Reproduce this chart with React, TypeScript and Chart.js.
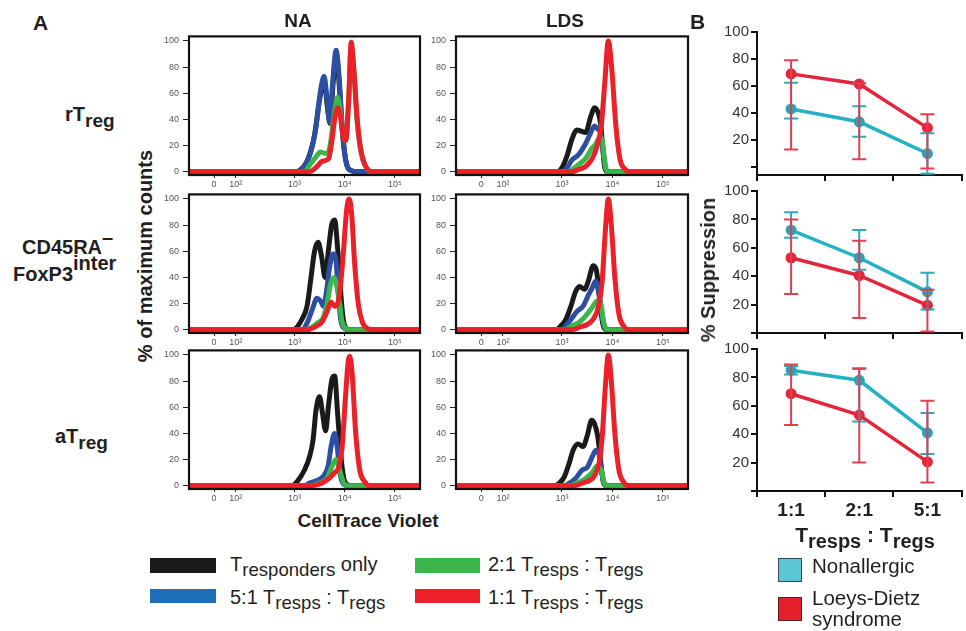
import React, { useEffect, useRef } from 'react';
import { Chart, registerables } from 'chart.js';
Chart.register(...registerables);

const FONT = '"Liberation Sans", Arial, Helvetica, sans-serif';

// ---------- Panel A (histograms): x in display decades of CellTrace Violet ----------
const xTickValues = [1.4, 1.83, 3, 4, 5];
const xTickLabels = ['0', '10²', '10³', '10⁴', '10⁵'];
const yTickValues = [0, 20, 40, 60, 80, 100];

const naRtBlack = [[0.9,0],[3.0,0],[3.1,1],[3.25,8],[3.4,28],[3.5,55],[3.59,70],[3.66,48],[3.71,37],[3.77,68],[3.83,90],[3.9,62],[3.96,28],[4.03,7],[4.12,1],[4.25,0],[5.5,0]];
const naRtBlue = [[0.9,0],[3.05,0],[3.15,2],[3.3,12],[3.42,32],[3.52,62],[3.59,73],[3.65,55],[3.7,38],[3.76,68],[3.83,93],[3.89,72],[3.95,35],[4.02,9],[4.12,1],[4.25,0],[5.5,0]];
const naRtGreen = [[0.9,0],[3.2,0],[3.3,5],[3.42,11],[3.52,15],[3.62,14],[3.7,18],[3.78,40],[3.86,57],[3.92,44],[3.97,27],[4.02,24],[4.08,55],[4.13,96],[4.18,78],[4.25,38],[4.33,14],[4.42,4],[4.55,0],[5.5,0]];
const naRtRed = [[0.9,0],[3.3,0],[3.45,4],[3.55,8],[3.68,10],[3.75,25],[3.8,40],[3.86,49],[3.91,44],[3.97,27],[4.02,24],[4.08,55],[4.13,99],[4.18,80],[4.25,40],[4.33,15],[4.42,4],[4.55,0],[5.5,0]];

const ldsRtBlack = [[0.9,0],[2.9,0],[3.0,3],[3.1,12],[3.2,25],[3.3,32],[3.38,31],[3.47,30],[3.57,42],[3.65,49],[3.72,45],[3.77,36],[3.81,18],[3.85,3],[3.9,0],[5.5,0]];
const ldsRtBlue = [[0.9,0],[3.0,0],[3.1,3],[3.2,9],[3.33,13],[3.45,20],[3.55,28],[3.65,35],[3.7,33],[3.76,30],[3.81,18],[3.86,3],[3.92,0],[5.5,0]];
const ldsRtGreen = [[0.9,0],[3.12,0],[3.25,3],[3.35,6],[3.47,10],[3.58,17],[3.67,21],[3.75,26],[3.8,24],[3.85,8],[3.9,0],[5.5,0]];
const ldsRtRed = [[0.9,0],[3.2,0],[3.35,2],[3.47,4],[3.6,10],[3.7,20],[3.78,35],[3.85,68],[3.92,100],[3.99,78],[4.07,35],[4.15,10],[4.25,2],[4.35,0],[5.5,0]];

const naCdBlack = [[0.9,0],[2.95,0],[3.05,2],[3.15,8],[3.25,18],[3.33,40],[3.4,60],[3.47,67],[3.54,56],[3.61,40],[3.68,62],[3.74,80],[3.8,84],[3.86,62],[3.9,40],[3.95,15],[4.0,3],[4.1,0],[5.5,0]];
const naCdBlue = [[0.9,0],[3.15,0],[3.25,5],[3.35,15],[3.45,24],[3.52,22],[3.58,18],[3.64,30],[3.7,48],[3.77,58],[3.82,55],[3.87,30],[3.92,8],[4.0,1],[4.1,0],[5.5,0]];
const naCdGreen = [[0.9,0],[3.25,0],[3.35,2],[3.45,5],[3.57,9],[3.65,20],[3.72,35],[3.79,40],[3.85,32],[3.9,20],[3.95,6],[4.02,1],[4.1,0],[5.5,0]];
const naCdRed = [[0.9,0],[3.25,0],[3.4,2],[3.55,6],[3.65,14],[3.73,21],[3.8,18],[3.86,20],[3.92,35],[3.98,62],[4.04,92],[4.09,100],[4.14,88],[4.2,50],[4.27,20],[4.35,6],[4.45,1],[4.6,0],[5.5,0]];

const ldsCdBlack = [[0.9,0],[2.88,0],[2.98,3],[3.08,8],[3.17,17],[3.27,29],[3.35,33],[3.45,31],[3.53,38],[3.62,49],[3.68,46],[3.73,32],[3.78,12],[3.83,2],[3.9,0],[5.5,0]];
const ldsCdBlue = [[0.9,0],[3.0,0],[3.1,4],[3.2,9],[3.3,14],[3.42,18],[3.52,26],[3.6,32],[3.67,37],[3.72,30],[3.78,15],[3.84,3],[3.9,0],[5.5,0]];
const ldsCdGreen = [[0.9,0],[3.05,0],[3.2,3],[3.35,6],[3.5,12],[3.6,17],[3.7,22],[3.77,20],[3.83,5],[3.9,0],[5.5,0]];
const ldsCdRed = [[0.9,0],[3.2,0],[3.35,2],[3.5,4],[3.62,8],[3.72,17],[3.8,38],[3.86,75],[3.92,100],[3.98,80],[4.05,40],[4.13,12],[4.22,3],[4.32,0],[5.5,0]];

const naAtBlack = [[0.9,0],[2.95,0],[3.05,3],[3.2,12],[3.3,22],[3.37,35],[3.43,58],[3.5,68],[3.56,55],[3.62,42],[3.68,62],[3.75,82],[3.8,84],[3.86,55],[3.92,25],[3.98,6],[4.05,1],[4.15,0],[5.5,0]];
const naAtBlue = [[0.9,0],[3.2,0],[3.3,2],[3.45,4],[3.57,7],[3.67,15],[3.73,30],[3.8,40],[3.85,30],[3.9,12],[3.95,3],[4.05,0],[5.5,0]];
const naAtGreen = [[0.9,0],[3.3,0],[3.5,2],[3.65,6],[3.75,15],[3.83,20],[3.88,15],[3.93,8],[4.0,1],[4.1,0],[5.5,0]];
const naAtRed = [[0.9,0],[3.35,0],[3.55,2],[3.7,6],[3.8,10],[3.88,14],[3.95,30],[4.02,70],[4.07,95],[4.1,99],[4.15,85],[4.22,40],[4.3,12],[4.4,3],[4.5,0],[5.5,0]];

const ldsAtBlack = [[0.9,0],[2.85,0],[2.95,2],[3.05,7],[3.15,18],[3.22,27],[3.32,32],[3.42,30],[3.5,38],[3.59,50],[3.65,47],[3.71,38],[3.77,18],[3.82,3],[3.88,0],[5.5,0]];
const ldsAtBlue = [[0.9,0],[3.05,0],[3.15,2],[3.28,6],[3.4,12],[3.5,14],[3.6,22],[3.67,27],[3.73,25],[3.79,10],[3.85,1],[3.9,0],[5.5,0]];
const ldsAtGreen = [[0.9,0],[3.15,0],[3.3,2],[3.45,5],[3.6,10],[3.7,15],[3.78,12],[3.84,2],[3.9,0],[5.5,0]];
const ldsAtRed = [[0.9,0],[3.25,0],[3.4,2],[3.55,4],[3.65,8],[3.74,18],[3.8,38],[3.86,75],[3.92,100],[3.98,80],[4.05,40],[4.13,12],[4.22,3],[4.32,0],[5.5,0]];

// ---------- Panel B (% suppression) ----------
const ratios = ['1:1', '2:1', '5:1'];
const suppTicks = [0, 20, 40, 60, 80, 100];
const suppTickLabels = ['', '20', '40', '60', '80', '100'];

const rtNonallergic = [43, 33.5, 10];
const rtNonallergicLow = [36, 22.5, -5];
const rtNonallergicHigh = [62.5, 45, 25];
const rtLoeysDietz = [69, 61.5, 29];
const rtLoeysDietzLow = [13, 5.8, -1];
const rtLoeysDietzHigh = [79, 62, 39];

const cdNonallergic = [72.5, 53, 29];
const cdNonallergicLow = [67, 44.5, 16.5];
const cdNonallergicHigh = [85, 72.5, 42.5];
const cdLoeysDietz = [53, 40.5, 19.5];
const cdLoeysDietzLow = [27.5, 10.5, 1];
const cdLoeysDietzHigh = [80, 65, 30.5];

const atNonallergic = [85, 78, 41];
const atNonallergicLow = [82, 49, 26];
const atNonallergicHigh = [88, 86, 55];
const atLoeysDietz = [68.5, 53.5, 20.5];
const atLoeysDietzLow = [46.5, 20, 6];
const atLoeysDietzHigh = [89, 86.5, 63.5];

const C_BLACK = '#1a1a1a';
const C_BLUE = '#2c4fa3';
const C_GREEN = '#3cb54a';
const C_RED = '#ec2028';
const C_CYAN = '#22b2c4';
const C_BRED = '#e2263b';

const framePlugin = {
  id: 'frame',
  afterDatasetsDraw(chart: any) {
    const { ctx, chartArea: a } = chart;
    ctx.save();
    ctx.strokeStyle = '#111';
    ctx.lineWidth = 2.2;
    ctx.strokeRect(a.left, a.top, a.right - a.left, a.bottom - a.top);
    ctx.restore();
  },
};

const errPlugin = {
  id: 'errbars',
  afterDatasetsDraw(chart: any, _args: any, opts: any) {
    const { ctx } = chart;
    const ys = chart.scales.y;
    (opts.bars || []).forEach((b: any) => {
      const meta = chart.getDatasetMeta(b.dataset);
      meta.data.forEach((pt: any, i: number) => {
        const x = pt.x;
        const y1 = ys.getPixelForValue(b.lo[i]);
        const y2 = ys.getPixelForValue(b.hi[i]);
        ctx.save();
        ctx.strokeStyle = b.color;
        ctx.lineWidth = 2;
        ctx.beginPath();
        ctx.moveTo(x, y1); ctx.lineTo(x, y2);
        ctx.moveTo(x - 7, y1); ctx.lineTo(x + 7, y1);
        ctx.moveTo(x - 7, y2); ctx.lineTo(x + 7, y2);
        ctx.stroke();
        ctx.restore();
      });
    });
  },
};

function ChartCanvas({ left, top, width, height, config }: any) {
  const ref = useRef<HTMLCanvasElement>(null);
  useEffect(() => {
    const chart = new Chart(ref.current as HTMLCanvasElement, config);
    return () => chart.destroy();
  }, []);
  return (
    <canvas
      ref={ref}
      width={width}
      height={height}
      style={{ position: 'absolute', left, top, width, height }}
    />
  );
}

const H_YW = 26, H_PT = 8, H_PR = 10, H_XH = 16;

function histConfig(black: number[][], blue: number[][], green: number[][], red: number[][]) {
  const series = [
    { pts: red, color: C_RED, order: 0 },
    { pts: green, color: C_GREEN, order: 1 },
    { pts: blue, color: C_BLUE, order: 2 },
    { pts: black, color: C_BLACK, order: 3 },
  ];
  return {
    type: 'line',
    data: {
      datasets: series.map((s) => ({
        data: s.pts.map(([x, y]) => ({ x, y })),
        borderColor: s.color,
        borderWidth: 5,
        pointRadius: 0,
        cubicInterpolationMode: 'monotone',
        fill: false,
        order: s.order,
      })),
    },
    options: {
      animation: false,
      responsive: false,
      events: [],
      layout: { padding: { top: H_PT, right: H_PR, left: 0, bottom: 0 } },
      plugins: { legend: { display: false }, tooltip: { enabled: false } },
      scales: {
        x: {
          type: 'linear',
          min: 0.9,
          max: 5.5,
          afterBuildTicks: (s: any) => { s.ticks = xTickValues.map((v) => ({ value: v })); },
          afterFit: (s: any) => { s.height = H_XH; },
          ticks: {
            callback: (_v: any, i: number) => xTickLabels[i],
            autoSkip: false, maxRotation: 0, padding: 1,
            font: { size: 9, family: FONT }, color: '#555',
          },
          grid: { drawOnChartArea: false, tickLength: 3, color: '#222' },
          border: { display: false },
        },
        y: {
          type: 'linear',
          min: -2.5,
          max: 103.5,
          afterBuildTicks: (s: any) => { s.ticks = yTickValues.map((v) => ({ value: v })); },
          afterFit: (s: any) => { s.width = H_YW; },
          ticks: { padding: 4, font: { size: 9, family: FONT }, color: '#555' },
          grid: { drawOnChartArea: false, tickLength: 6, color: '#222' },
          border: { display: false },
        },
      },
    },
    plugins: [framePlugin],
  };
}

function Hist({ L, T, R, B, black, blue, green, red }: any) {
  return (
    <ChartCanvas
      left={L - H_YW}
      top={T - H_PT}
      width={R - L + H_YW + H_PR}
      height={B - T + H_PT + H_XH}
      config={histConfig(black, blue, green, red)}
    />
  );
}

const S_YW = 50, S_PT = 14;

function suppConfig(na: number[], naLo: number[], naHi: number[], ld: number[], ldLo: number[], ldHi: number[], yMin: number, showX: boolean, xH: number) {
  return {
    type: 'line',
    data: {
      labels: ratios,
      datasets: [
        { data: ld, borderColor: C_BRED, backgroundColor: C_BRED, borderWidth: 3.5, pointRadius: 5.5, pointBorderWidth: 0, order: 0 },
        { data: na, borderColor: C_CYAN, backgroundColor: '#2aa3b8', borderWidth: 3.5, pointRadius: 5.5, pointBorderWidth: 0, order: 1 },
      ],
    },
    options: {
      animation: false,
      responsive: false,
      events: [],
      layout: { padding: { top: S_PT, right: 0, left: 0, bottom: 0 } },
      plugins: {
        legend: { display: false },
        tooltip: { enabled: false },
        errbars: {
          bars: [
            { dataset: 1, lo: naLo, hi: naHi, color: '#2fa9bb' },
            { dataset: 0, lo: ldLo, hi: ldHi, color: '#e2404f' },
          ],
        },
      },
      scales: {
        x: {
          type: 'category',
          offset: true,
          afterFit: (s: any) => { s.height = xH; },
          ticks: {
            callback: (_v: any, i: number) => (showX ? ratios[i] : ''),
            padding: 2, maxRotation: 0, autoSkip: false,
            font: { size: 19, weight: 'bold', family: FONT }, color: '#222',
          },
          grid: { offset: true, drawOnChartArea: false, tickLength: 6, color: '#111', lineWidth: 2 },
          border: { display: true, color: '#111', width: 2 },
        },
        y: {
          type: 'linear',
          min: yMin,
          max: 100,
          afterBuildTicks: (s: any) => { s.ticks = suppTicks.map((v) => ({ value: v })); },
          afterFit: (s: any) => { s.width = S_YW; },
          ticks: {
            callback: (_v: any, i: number) => suppTickLabels[i],
            padding: 2, font: { size: 15, family: FONT }, color: '#333',
          },
          grid: { drawOnChartArea: false, tickLength: 6, color: '#111', lineWidth: 2 },
          border: { display: true, color: '#111', width: 2 },
        },
      },
    },
    plugins: [errPlugin],
  };
}

function Supp({ T, B, xH, ...rest }: any) {
  const L = 757, R = 967;
  return (
    <ChartCanvas
      left={L - S_YW}
      top={T - S_PT}
      width={R - L + S_YW}
      height={B - T + S_PT + xH}
      config={suppConfig(rest.na, rest.naLo, rest.naHi, rest.ld, rest.ldLo, rest.ldHi, rest.yMin, rest.showX, xH)}
    />
  );
}

const abs = (left: number, top: number, size: number, bold = true, extra: any = {}) => ({
  position: 'absolute' as const,
  left,
  top,
  fontSize: size,
  fontWeight: bold ? 700 : 400,
  lineHeight: 1,
  whiteSpace: 'nowrap' as const,
  color: '#231f20',
  ...extra,
});

const sub = { fontSize: '0.95em', position: 'relative' as const, top: '0.3em' };
const subL = { fontSize: '0.93em', position: 'relative' as const, top: '0.28em' };

export default function App() {
  const naL = 189, naR = 420, ldL = 456, ldR = 688;
  const rows = [
    { T: 35, B: 175 },
    { T: 193, B: 333 },
    { T: 349, B: 489 },
  ];
  return (
    <div style={{ position: 'fixed', left: 0, top: 0, width: 966, height: 631, overflow: 'hidden', background: '#fff', fontFamily: FONT }}>
      <Hist L={naL} R={naR} T={rows[0].T} B={rows[0].B} black={naRtBlack} blue={naRtBlue} green={naRtGreen} red={naRtRed} />
      <Hist L={ldL} R={ldR} T={rows[0].T} B={rows[0].B} black={ldsRtBlack} blue={ldsRtBlue} green={ldsRtGreen} red={ldsRtRed} />
      <Hist L={naL} R={naR} T={rows[1].T} B={rows[1].B} black={naCdBlack} blue={naCdBlue} green={naCdGreen} red={naCdRed} />
      <Hist L={ldL} R={ldR} T={rows[1].T} B={rows[1].B} black={ldsCdBlack} blue={ldsCdBlue} green={ldsCdGreen} red={ldsCdRed} />
      <Hist L={naL} R={naR} T={rows[2].T} B={rows[2].B} black={naAtBlack} blue={naAtBlue} green={naAtGreen} red={naAtRed} />
      <Hist L={ldL} R={ldR} T={rows[2].T} B={rows[2].B} black={ldsAtBlack} blue={ldsAtBlue} green={ldsAtGreen} red={ldsAtRed} />

      <Supp T={32} B={175} xH={14} yMin={-5.9} showX={false}
        na={rtNonallergic} naLo={rtNonallergicLow} naHi={rtNonallergicHigh}
        ld={rtLoeysDietz} ldLo={rtLoeysDietzLow} ldHi={rtLoeysDietzHigh} />
      <Supp T={191} B={333} xH={14} yMin={0} showX={false}
        na={cdNonallergic} naLo={cdNonallergicLow} naHi={cdNonallergicHigh}
        ld={cdLoeysDietz} ldLo={cdLoeysDietzLow} ldHi={cdLoeysDietzHigh} />
      <Supp T={349} B={491} xH={30} yMin={0} showX={true}
        na={atNonallergic} naLo={atNonallergicLow} naHi={atNonallergicHigh}
        ld={atLoeysDietz} ldLo={atLoeysDietzLow} ldHi={atLoeysDietzHigh} />

      {/* panel letters and headers */}
      <div style={abs(33, 12, 21)}>A</div>
      <div style={abs(690, 11, 21)}>B</div>
      <div style={abs(248, 11, 19, true, { width: 100, textAlign: 'center' })}>NA</div>
      <div style={abs(515, 11, 19, true, { width: 100, textAlign: 'center' })}>LDS</div>

      {/* row labels */}
      <div style={abs(65, 104, 20)}>rT<span style={sub}>reg</span></div>
      <div style={abs(22, 237, 20)}>CD45RA<span style={{ position: 'relative', top: '-0.5em' }}>–</span></div>
      <div style={abs(13, 264, 20)}>FoxP3<span style={{ position: 'relative', top: '-0.55em' }}>inter</span></div>
      <div style={abs(55, 426, 20)}>aT<span style={sub}>reg</span></div>

      {/* axis titles */}
      <div style={abs(145, 256, 20, true, { transform: 'translate(-50%, -50%) rotate(-90deg)' })}>% of maximum counts</div>
      <div style={abs(368, 520, 19, true, { transform: 'translate(-50%, -50%)' })}>CellTrace Violet</div>
      <div style={abs(708, 270, 20, true, { transform: 'translate(-50%, -50%) rotate(-90deg)' })}>% Suppression</div>
      <div style={abs(770, 524, 21, true, { width: 190, textAlign: 'center' })}>T<span style={sub}>resps</span> : T<span style={sub}>regs</span></div>

      {/* legend A */}
      <div style={{ position: 'absolute', left: 150, top: 558, width: 66, height: 15, background: C_BLACK }} />
      <div style={{ position: 'absolute', left: 150, top: 589, width: 66, height: 14, background: '#1e6fb8' }} />
      <div style={{ position: 'absolute', left: 415, top: 558, width: 65, height: 15, background: C_GREEN }} />
      <div style={{ position: 'absolute', left: 415, top: 589, width: 65, height: 14, background: C_RED }} />
      <div style={abs(230, 554, 20, false)}>T<span style={subL}>responders</span> only</div>
      <div style={abs(230, 587, 20, false)}>5:1 T<span style={subL}>resps</span> : T<span style={subL}>regs</span></div>
      <div style={abs(488, 554, 20, false)}>2:1 T<span style={subL}>resps</span> : T<span style={subL}>regs</span></div>
      <div style={abs(488, 587, 20, false)}>1:1 T<span style={subL}>resps</span> : T<span style={subL}>regs</span></div>

      {/* legend B */}
      <div style={{ position: 'absolute', left: 778, top: 558, width: 22, height: 22, background: '#5cc6d6', border: '1.5px solid #2d4a55' }} />
      <div style={{ position: 'absolute', left: 778, top: 597, width: 22, height: 22, background: '#e4202a', border: '1.5px solid #5a1f1f' }} />
      <div style={abs(812, 556, 20.5, false)}>Nonallergic</div>
      <div style={abs(812, 588, 20.5, false)}>Loeys-Dietz</div>
      <div style={abs(812, 609, 20.5, false)}>syndrome</div>
    </div>
  );
}
